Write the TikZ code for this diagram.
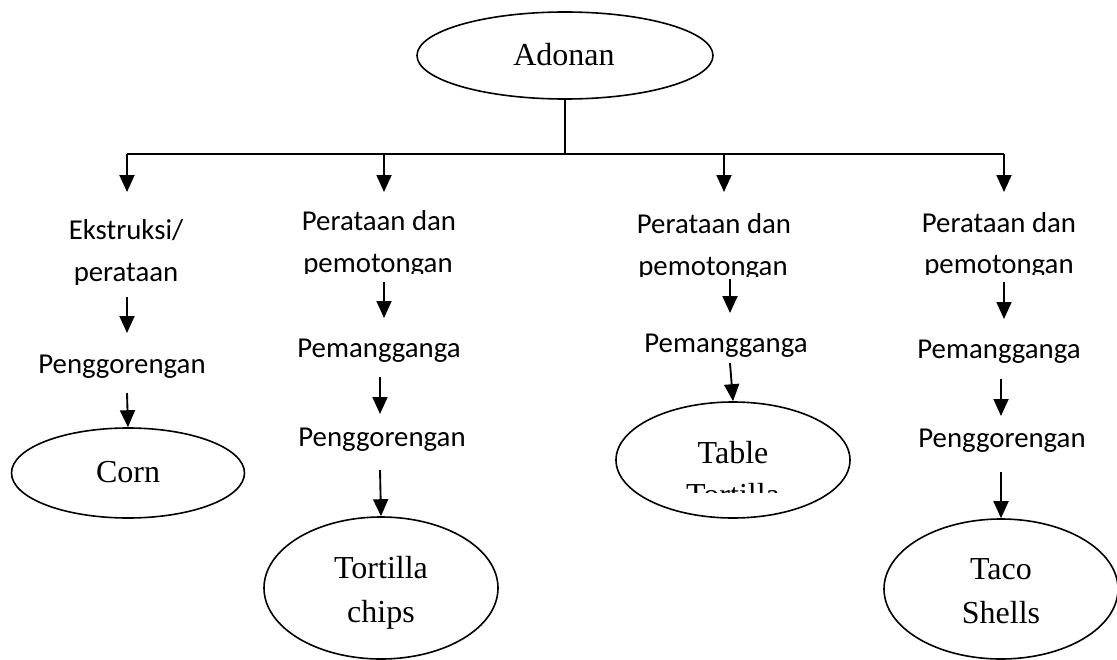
\documentclass[tikz,border=0pt]{standalone}
\usepackage{fontspec}
\setmainfont{Liberation Serif}
\newfontfamily\calib{Carlito}
\usetikzlibrary{shapes.geometric,arrows.meta}
\begin{document}
\begin{tikzpicture}[x=0.75pt,y=-0.75pt,
  line/.style={line width=1.4pt},
  arr/.style={line width=1.4pt,-{Triangle[width=11.25pt,length=12.75pt]}},
  oval/.style={ellipse,draw,line width=1.2pt,inner sep=0pt},
  lbl/.style={font=\calib\fontsize{21.6}{26}\selectfont,anchor=base,inner sep=0pt},
  ttl/.style={font=\fontsize{24}{29}\selectfont,anchor=base,inner sep=0pt}]
\useasboundingbox (0,0) rectangle (1117,660);

% top
\node[oval,minimum width=222pt,minimum height=65.25pt] (adonan) at (565,55.5) {};
\node[ttl] (adonanT) at (564,65) {Adonan};
\coordinate (bar1) at (127,154);
\coordinate (bar2) at (384,154);
\coordinate (bar3) at (724,154);
\coordinate (bar4) at (1004,154);
\draw[line] (adonan.south) -- (adonan.south |- bar1);
\draw[line] (bar1) -- (bar4);

% column 1
\coordinate (c1a) at (127,192);
\draw[arr] (bar1) -- (c1a);
\node[lbl] (eks) at (126,239) {Ekstruksi/};
\begin{scope}
  \clip (0,250) rectangle (260,284);
  \node[lbl] (per1) at (126,281) {perataan};
\end{scope}
\coordinate (c1b) at (127,297);
\coordinate (c1c) at (127,333);
\draw[arr] (c1b) -- (c1c);
\node[lbl] (gor1) at (122,373) {Penggorengan};
\coordinate (c1d) at (127,393);
\node[oval,minimum width=174.75pt,minimum height=67.5pt] (corn) at (128,473) {};
\node[ttl] (cornT) at (128,482) {Corn};
\draw[arr] (c1d) -- (corn.north);

% column 2
\coordinate (c2a) at (384,192);
\draw[arr] (bar2) -- (c2a);
\node[lbl] (rat2) at (379,230) {Perataan dan};
\begin{scope}
  \clip (260,240) rectangle (500,273);
  \node[lbl] (pot2) at (378,272) {pemotongan};
\end{scope}
\coordinate (c2b) at (384,282);
\coordinate (c2c) at (384,318);
\draw[arr] (c2b) -- (c2c);
\node[lbl] (pan2) at (379,357) {Pemangganga};
\coordinate (c2d) at (380,377);
\coordinate (c2e) at (380,414);
\draw[arr] (c2d) -- (c2e);
\node[lbl] (gor2) at (382,446) {Penggorengan};
\coordinate (c2f) at (380,470);
\node[oval,minimum width=175.5pt,minimum height=106.5pt] (chips) at (381,588) {};
\node[ttl] (chipsT1) at (381,578) {Tortilla};
\node[ttl] (chipsT2) at (381,622) {chips};
\draw[arr] (c2f) -- (chips.north);

% column 3
\coordinate (c3a) at (724,192);
\draw[arr] (bar3) -- (c3a);
\node[lbl] (rat3) at (714,233) {Perataan dan};
\begin{scope}
  \clip (600,243) rectangle (840,276);
  \node[lbl] (pot3) at (713,275) {pemotongan};
\end{scope}
\coordinate (c3b) at (730,279);
\coordinate (c3c) at (730,313);
\draw[arr] (c3b) -- (c3c);
\node[lbl] (pan3) at (726,352) {Pemangganga};
\coordinate (c3d) at (730,363);
\node[oval,minimum width=175.5pt,minimum height=87pt] (table) at (733,460) {};
\node[ttl] (tableT1) at (733,463) {Table};
\begin{scope}
  \clip (600,470) rectangle (860,492);
  \node[ttl] (tableT2) at (733,505) {Tortilla};
\end{scope}
\draw[arr] (c3d) -- (table.north);

% column 4
\coordinate (c4a) at (1004,192);
\draw[arr] (bar4) -- (c4a);
\node[lbl] (rat4) at (999,232) {Perataan dan};
\begin{scope}
  \clip (880,242) rectangle (1117,274);
  \node[lbl] (pot4) at (999,273) {pemotongan};
\end{scope}
\coordinate (c4b) at (1004,282);
\coordinate (c4c) at (1004,319);
\draw[arr] (c4b) -- (c4c);
\node[lbl] (pan4) at (999,358) {Pemangganga};
\coordinate (c4d) at (1001,379);
\coordinate (c4e) at (1001,416);
\draw[arr] (c4d) -- (c4e);
\node[lbl] (gor4) at (1002,447) {Penggorengan};
\coordinate (c4f) at (1001,472);
\node[oval,minimum width=175.5pt,minimum height=105pt] (taco) at (1001,589) {};
\node[ttl] (tacoT1) at (1001,579) {Taco};
\node[ttl] (tacoT2) at (1001,623) {Shells};
\draw[arr] (c4f) -- (taco.north);
\end{tikzpicture}
\end{document}
